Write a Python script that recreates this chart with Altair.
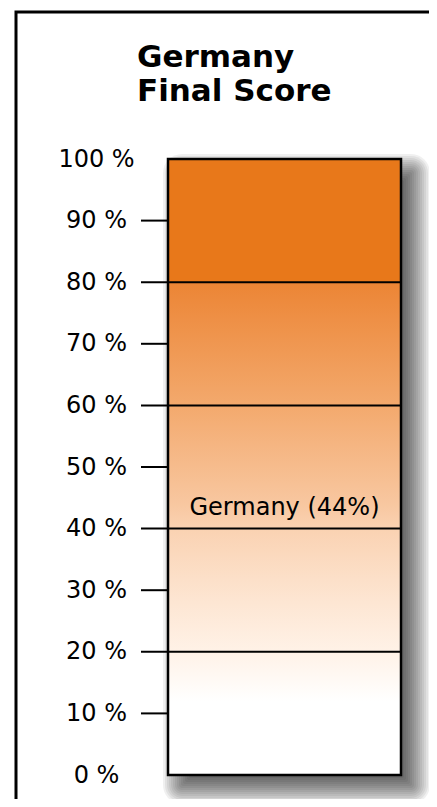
import altair as alt
import pandas as pd

# ---- data ----
country = "Germany"
score = 44
bar_low = [0]
bar_high = [100]
axis_values = [0, 10, 20, 30, 40, 50, 60, 70, 80, 90, 100]
minor_ticks = [10, 30, 50, 70, 90]
major_lines = [20, 40, 60, 80]
title_lines = ["Germany", "Final Score"]

W, H = 233, 616

bar_df = pd.DataFrame({"lo": bar_low, "hi": bar_high, "name": [country]})
label_df = pd.DataFrame({"v": [score], "text": [f"{country} ({score}%)"]})
minor_df = pd.DataFrame({"v": minor_ticks})
major_df = pd.DataFrame({"v": major_lines})
title_df = pd.DataFrame({"t": ["\n".join(title_lines)]})

FONT = "DejaVu Sans"
yscale = alt.Scale(domain=[0, 100], nice=False, zero=False)
yaxis = alt.Axis(
    values=axis_values,
    labelExpr="datum.value + ' %'",
    domain=False, grid=False, ticks=False, tickSize=0,
    labelAlign="center", labelBaseline="middle", labelPadding=72,
    labelFont=FONT, labelFontSize=24, labelColor="black",
    labelFlush=False, labelOverlap=False, title=None,
)

bar = alt.Chart(bar_df).mark_rect(
    fill=alt.LinearGradient(
        gradient="linear", x1=0, x2=0, y1=0, y2=1,
        stops=[
            alt.GradientStop(offset=0.0, color="#E8781A"),
            alt.GradientStop(offset=0.2, color="#E8781A"),
            alt.GradientStop(offset=0.201, color="#EC8535"),
            alt.GradientStop(offset=0.4, color="#F3A96D"),
            alt.GradientStop(offset=0.56, color="#F8C7A0"),
            alt.GradientStop(offset=0.6, color="#FAD2B2"),
            alt.GradientStop(offset=0.72, color="#FDE6D3"),
            alt.GradientStop(offset=0.8, color="#FFF2E7"),
            alt.GradientStop(offset=0.88, color="#FFFFFF"),
            alt.GradientStop(offset=1.0, color="#FFFFFF"),
        ],
    ),
    stroke="black", strokeWidth=2.5,
).encode(
    x=alt.value(0), x2=alt.value(W),
    y=alt.Y("lo:Q", scale=yscale, axis=yaxis), y2="hi:Q",
)

# outer frame (decoration)
frame = alt.Chart(bar_df).mark_rect(
    fillOpacity=0, stroke="black", strokeWidth=3
).encode(
    x=alt.value(-152), x2=alt.value(1200), y=alt.value(-147), y2=alt.value(2000)
)

# soft drop shadow (stack of expanding translucent rects)
shadows = []
for e in range(-13, 18, 2):
    shadows.append(
        alt.Chart(bar_df).mark_rect(
            color="black", opacity=0.06,
            xOffset=12 - e, x2Offset=12 + e, yOffset=12 + e, y2Offset=12 - e,
            cornerRadius=max(e, 0) + 2,
        ).encode(
            x=alt.value(0), x2=alt.value(W),
            y=alt.Y("lo:Q", scale=yscale, axis=yaxis), y2="hi:Q",
        )
    )

majors = alt.Chart(major_df).mark_rule(color="black", strokeWidth=2).encode(
    x=alt.value(-27), x2=alt.value(W),
    y=alt.Y("v:Q", scale=yscale, axis=yaxis),
)
minors = alt.Chart(minor_df).mark_rule(color="black", strokeWidth=2).encode(
    x=alt.value(-27), x2=alt.value(0),
    y=alt.Y("v:Q", scale=yscale, axis=yaxis),
)

label = alt.Chart(label_df).mark_text(
    font=FONT, fontSize=24, color="black", align="center", baseline="middle", dy=4
).encode(
    x=alt.value(W / 2),
    y=alt.Y("v:Q", scale=yscale, axis=yaxis),
    text="text:N",
)

title = alt.Chart(title_df).mark_text(
    font=FONT, fontSize=31, fontWeight="bold", color="black",
    align="left", baseline="alphabetic", lineBreak="\n", lineHeight=34,
).encode(x=alt.value(-31), y=alt.value(-92), text="t:N")

chart = alt.layer(frame, *shadows, bar, majors, minors, label, title).properties(
    width=W, height=H,
    autosize=alt.AutoSizeParams(type="none"),
    padding={"left": 160, "top": 151, "right": 28, "bottom": 24},
).configure_view(strokeWidth=0)

chart.save("out.html", embed_options={"renderer": "svg", "actions": False})
